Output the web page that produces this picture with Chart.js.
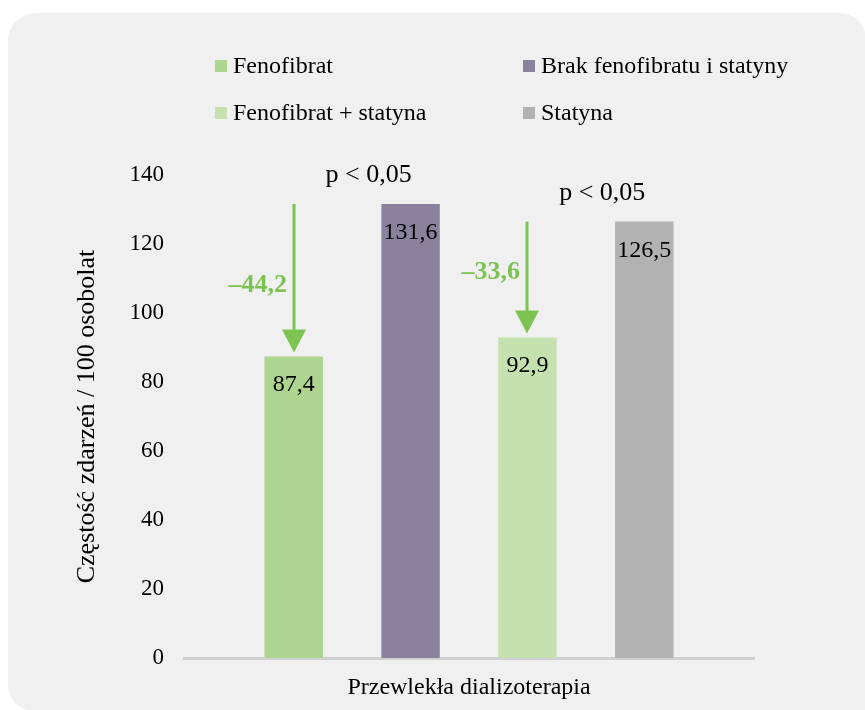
<!DOCTYPE html>
<html lang="pl">
<head>
<meta charset="utf-8">
<title>Częstość zdarzeń – przewlekła dializoterapia</title>
<script src="https://cdn.jsdelivr.net/npm/chart.js@4/dist/chart.umd.min.js"></script>
<style>
  html, body { margin: 0; padding: 0; background: #ffffff; overflow: hidden; }
  #panel {
    position: absolute; left: 8px; top: 13px; width: 858px; height: 699px;
    background: #f0f0f0; border-radius: 28px 26px 0 28px;
  }
  #wrap { position: absolute; left: 0; top: 0; width: 865px; height: 710px; }
</style>
</head>
<body>
<div id="panel"></div>
<div id="wrap"><canvas id="chart"></canvas></div>
<script>
// Category on the x axis
const categories = ['Przewlekła dializoterapia'];

// One bar per patient group
const seriesNames = ['Fenofibrat', 'Brak fenofibratu i statyny', 'Fenofibrat + statyna', 'Statyna'];
const seriesValues = [87.4, 131.6, 92.9, 126.5];
const seriesColors = ['#aed590', '#8a819c', '#c5e1b0', '#b2b2b3'];

// Y axis ticks
const yTicks = [0, 20, 40, 60, 80, 100, 120, 140];

// Pairs compared: [treated group, reference group]
const comparisons = [[0, 1], [2, 3]];
const significance = ['p < 0,05', 'p < 0,05'];

const SERIF = '"Liberation Serif", "Times New Roman", serif';
const ARROW_GREEN = '#7dc352';
const fmt = v => v.toFixed(1).replace('.', ',');

const datasets = seriesNames.map((name, i) => ({
  label: name,
  data: [seriesValues[i]],
  backgroundColor: seriesColors[i],
  borderWidth: 0,
  categoryPercentage: 0.82,
  barPercentage: 0.5
}));

// Legend in two columns, values inside the bars, arrows and p-values
const overlay = {
  id: 'overlay',
  afterDatasetsDraw(chart) {
    const ctx = chart.ctx;
    const y = chart.scales.y;
    ctx.save();

    // legend
    const colX = [215, 523];
    const rowBase = [73, 120];
    ctx.font = '24px ' + SERIF;
    ctx.textAlign = 'left';
    ctx.textBaseline = 'alphabetic';
    seriesNames.forEach((name, i) => {
      const cx = colX[i % 2], by = rowBase[Math.floor(i / 2)];
      ctx.fillStyle = seriesColors[i];
      ctx.fillRect(cx, by - 13, 12, 12);
      ctx.fillStyle = '#000000';
      ctx.fillText(name, cx + 18, by);
    });

    // value labels inside bar tops
    ctx.font = '24px ' + SERIF;
    ctx.textAlign = 'center';
    seriesValues.forEach((v, i) => {
      const bar = chart.getDatasetMeta(i).data[0];
      ctx.fillStyle = '#000000';
      ctx.fillText(fmt(v), bar.x, bar.y + 35);
    });

    // reduction arrows and significance labels
    const labelLift = [0, 13];
    comparisons.forEach(([a, b], k) => {
      const barA = chart.getDatasetMeta(a).data[0];
      const barB = chart.getDatasetMeta(b).data[0];
      const x = Math.round(barA.x);
      const yStart = y.getPixelForValue(seriesValues[b]);
      const tip = y.getPixelForValue(seriesValues[a]) - 4;
      const headH = 23, headW = 12;

      ctx.strokeStyle = ARROW_GREEN;
      ctx.lineWidth = 3;
      ctx.beginPath();
      ctx.moveTo(x, yStart);
      ctx.lineTo(x, tip - headH + 1);
      ctx.stroke();
      ctx.fillStyle = ARROW_GREEN;
      ctx.beginPath();
      ctx.moveTo(x - headW, tip - headH);
      ctx.lineTo(x + headW, tip - headH);
      ctx.lineTo(x, tip);
      ctx.closePath();
      ctx.fill();

      const diff = seriesValues[a] - seriesValues[b];
      const mid = y.getPixelForValue((seriesValues[a] + seriesValues[b]) / 2);
      ctx.font = 'bold 26px ' + SERIF;
      ctx.textAlign = 'right';
      ctx.fillText('\u2013' + fmt(Math.abs(diff)), x - 7, mid + 12 - labelLift[k]);

      ctx.font = '26px ' + SERIF;
      ctx.textAlign = 'center';
      ctx.fillStyle = '#000000';
      ctx.fillText(significance[k], barB.x - 42, barB.y - 22);
    });

    ctx.restore();
  }
};

new Chart(document.getElementById('chart'), {
  type: 'bar',
  data: { labels: categories, datasets },
  options: {
    responsive: true,
    maintainAspectRatio: false,
    animation: false,
    layout: { padding: { top: 175, right: 111, bottom: 0, left: 0 } },
    plugins: {
      legend: { display: false },
      tooltip: { enabled: false }
    },
    scales: {
      x: {
        grid: { display: false, drawTicks: false },
        border: { display: true, color: '#d0d0d0', width: 3 },
        ticks: {
          color: '#000000',
          font: { family: SERIF, size: 24 },
          padding: 15
        },
        afterFit(scale) { scale.height = 52; }
      },
      y: {
        min: 0,
        max: 140,
        grid: { display: false, drawTicks: false },
        border: { display: false },
        afterBuildTicks(scale) { scale.ticks = yTicks.map(v => ({ value: v })); },
        ticks: {
          color: '#000000',
          font: { family: SERIF, size: 23 },
          padding: 20
        },
        title: {
          display: true,
          text: 'Częstość zdarzeń / 100 osobolat',
          color: '#000000',
          font: { family: SERIF, size: 26 },
          padding: { top: 72, bottom: 0 }
        },
        afterFit(scale) { scale.width = 184; }
      }
    }
  },
  plugins: [overlay]
});
</script>
</body>
</html>
